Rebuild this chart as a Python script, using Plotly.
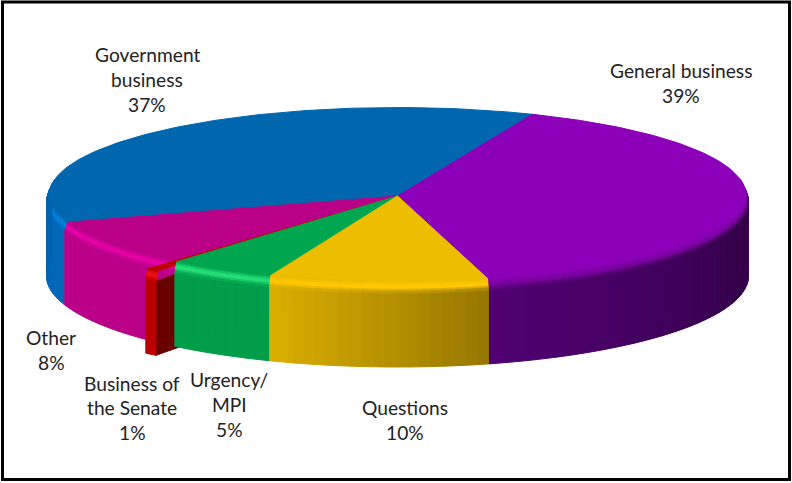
import math

import plotly.graph_objs as go

# shares in drawing order, clockwise from the general/government boundary
categories = ['General business', 'Questions', 'Urgency/MPI', 'Business of the Senate', 'Other', 'Government business']
shown_pct = [39, 10, 5, 1, 8, 37]
shares = [39.5, 10.1, 5.0, 0.6, 8.3, 36.5]

top_colors = ['#8b00b8', '#edbd00', '#00a550', '#c00000', '#bb0088', '#0066ae']
rim_colors = ['#7a00a0', '#ffc800', '#25e078', '#ee1010', '#e800a8', '#0080e0']
side_left = ['#500072', '#dbb000', '#009d4a', '#bb0000', '#bb0088', '#0062ae']
side_right = ['#35004a', '#967600', '#009d4a', '#bb0000', '#bb0088', '#0068b8']

label_lines = [
    ['General business', '39%'],
    ['Questions', '10%'],
    ['Urgency/', 'MPI', '5%'],
    ['Business of', 'the Senate', '1%'],
    ['Other', '8%'],
    ['Government', 'business', '37%'],
]
label_x = [681, 405, 229, 132, 51, 147]
label_y = [[70, 95], [407, 432], [379, 404, 429], [383, 407, 432], [337, 362], [54, 79, 104]]

START = 22.8
CX = 397.5
APEX_Y = 196
FLAT = (348, 87, 194.5)
OUTER = (351, 91, 202)
DEPTH = 74
STEP = 2
BEVEL = 6
SENATE = 3
OTHER = 4
PULL = (-19, 9)


def mix(c1, c2, t):
    a = [int(c1[i:i + 2], 16) for i in (1, 3, 5)]
    b = [int(c2[i:i + 2], 16) for i in (1, 3, 5)]
    return '#%02x%02x%02x' % tuple(round(p + (q - p) * t) for p, q in zip(a, b))


def rim(angle, t, off=(0, 0), drop=0):
    rx = FLAT[0] + (OUTER[0] - FLAT[0]) * t
    ry = FLAT[1] + (OUTER[1] - FLAT[1]) * t
    cy = FLAT[2] + (OUTER[2] - FLAT[2]) * t
    a = math.radians(angle)
    return CX + rx * math.sin(a) + off[0], cy - ry * math.cos(a) + off[1] + drop


def arc_angles(a0, a1):
    n = max(1, int(math.ceil((a1 - a0) / 1.0)))
    return [a0 + (a1 - a0) * i / n for i in range(n + 1)]


def poly(points, color):
    return go.Scatter(x=[p[0] for p in points] + [points[0][0]], y=[p[1] for p in points] + [points[0][1]],
                      mode='lines', fill='toself', fillcolor=color, line=dict(color=color, width=1),
                      hoverinfo='skip', showlegend=False)


bounds = [START]
for s in shares:
    bounds.append(bounds[-1] + s * 3.6)

traces = []
for i in [5, 0, 4, 3, 2, 1]:
    a0, a1 = bounds[i], bounds[i + 1]
    off = PULL if i == SENATE else (0, 0)
    # the pulled out slice leaves a hole, other runs on under it
    if i == OTHER:
        a0 = bounds[SENATE]
    # only the front of the pie shows its side
    v0, v1 = max(a0, 80), min(a1, 280)

    if i == SENATE:
        r = rim(a0, 1, off)
        traces.append(poly([r, (CX, APEX_Y), (CX, APEX_Y + DEPTH), (r[0], r[1] + DEPTH)], '#690000'))

    if v1 > v0:
        steps = max(1, int(math.ceil((v1 - v0) / STEP)))
        for k in range(steps):
            b0 = v0 + (v1 - v0) * k / steps
            b1 = v0 + (v1 - v0) * (k + 1) / steps
            # purple and gold darken left to right, angle runs right to left here
            pos = 1 - (k + 0.5) / steps
            side = mix(side_left[i], side_right[i], min(1, pos * (1.4 if i == 0 else 1)))
            arc = arc_angles(b0, b1)
            lower = [rim(a, 1, off) for a in arc] + [rim(a, 1, off, DEPTH) for a in reversed(arc)]
            traces.append(poly(lower, side))
            for lev in range(BEVEL):
                t0, t1 = lev / BEVEL, (lev + 1) / BEVEL
                tm = (t0 + t1) / 2
                if tm < 0.45:
                    col = mix(top_colors[i], rim_colors[i], tm / 0.45)
                elif tm < 0.6:
                    col = rim_colors[i]
                else:
                    col = mix(rim_colors[i], side, (tm - 0.6) / 0.4)
                band = [rim(a, t0, off) for a in arc] + [rim(a, t1, off) for a in reversed(arc)]
                traces.append(poly(band, col))

    top = [(CX, APEX_Y)] + [rim(a, 0, off) for a in arc_angles(a0, a1)]
    traces.append(poly(top, top_colors[i]))

annotations = []
for lines, x, ys in zip(label_lines, label_x, label_y):
    for line, y in zip(lines, ys):
        annotations.append(dict(x=x, y=y, text=line, showarrow=False, xanchor='center', yanchor='middle',
                                font=dict(family='Lato', size=19.2, color='#222222')))

layout = go.Layout(
    width=792, height=483, margin=dict(l=0, r=0, t=0, b=0), autosize=False,
    paper_bgcolor='white', plot_bgcolor='white', showlegend=False,
    xaxis=dict(range=[0, 792], visible=False, fixedrange=True),
    yaxis=dict(range=[483, 0], visible=False, fixedrange=True),
    annotations=annotations,
    shapes=[dict(type='rect', x0=2.5, x1=789.5, y0=2, y1=479.5, line=dict(color='black', width=3))],
)
fig = go.Figure(data=traces, layout=layout)
fig.write_html("out.html", config=dict(displayModeBar=False),
               post_script="document.body.style.margin='0';document.body.style.overflow='hidden';")
